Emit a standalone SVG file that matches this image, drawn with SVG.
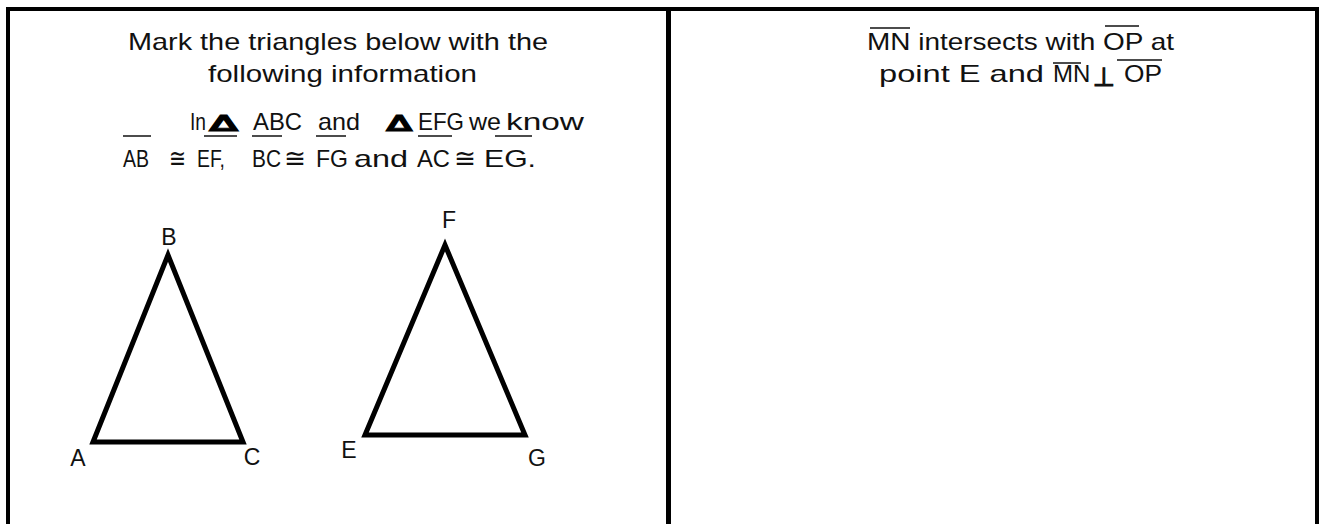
<svg xmlns="http://www.w3.org/2000/svg" width="1320" height="524" viewBox="0 0 1320 524">
<style>
.t{font-family:"Liberation Sans","DejaVu Sans",sans-serif;font-size:24px;fill:#111}
.s{font-family:"DejaVu Sans",sans-serif;font-size:26px;fill:#111}
.tri{font-family:"DejaVu Sans",sans-serif;font-weight:bold;font-size:40px;fill:#000;stroke:#000;stroke-width:1.5}
.lbl{font-family:"Liberation Sans","DejaVu Sans",sans-serif;font-size:23px;fill:#111;text-anchor:middle}
.ov{stroke:#111;stroke-width:1.5;fill:none}
.frame{stroke:#000;fill:none}
.shape{stroke:#000;stroke-width:5;fill:none;stroke-linejoin:miter}
</style>
<rect width="1320" height="524" fill="#fff"/>
<g id="frame">
<line class="frame" x1="6" y1="9" x2="1319" y2="9" stroke-width="4"/>
<line class="frame" x1="8" y1="7" x2="8" y2="524" stroke-width="4"/>
<line class="frame" x1="1317" y1="7" x2="1317" y2="524" stroke-width="4"/>
<line class="frame" x1="668.5" y1="11" x2="668.5" y2="524" stroke-width="5"/>
</g>
<g id="left-text">
<text class="t" x="128" y="50" textLength="420" lengthAdjust="spacingAndGlyphs">Mark the triangles below with the</text>
<text class="t" x="208" y="82" textLength="269" lengthAdjust="spacingAndGlyphs">following information</text>
<text class="t" x="190" y="130" textLength="16" lengthAdjust="spacingAndGlyphs">In</text>
<text class="tri" transform="translate(209,131) scale(1.05,0.56)">∆</text>
<text class="t" x="253" y="130" textLength="49" lengthAdjust="spacingAndGlyphs">ABC</text>
<text class="t" x="318" y="130" textLength="42" lengthAdjust="spacingAndGlyphs">and</text>
<text class="tri" transform="translate(386,131) scale(0.95,0.56)">∆</text>
<text class="t" x="418" y="130" textLength="46" lengthAdjust="spacingAndGlyphs">EFG</text>
<text class="t" x="469" y="130" textLength="32" lengthAdjust="spacingAndGlyphs">we</text>
<text class="t" x="506" y="130" textLength="78" lengthAdjust="spacingAndGlyphs">know</text>
<text class="t" x="123" y="167" textLength="26" lengthAdjust="spacingAndGlyphs">AB</text>
<text class="s" x="169" y="167" textLength="17" lengthAdjust="spacingAndGlyphs">≅</text>
<text class="t" x="197" y="167" textLength="28" lengthAdjust="spacingAndGlyphs">EF,</text>
<text class="t" x="252" y="167" textLength="29" lengthAdjust="spacingAndGlyphs">BC</text>
<text class="s" x="284" y="167" textLength="22" lengthAdjust="spacingAndGlyphs">≅</text>
<text class="t" x="316" y="167" textLength="32" lengthAdjust="spacingAndGlyphs">FG</text>
<text class="t" x="354" y="167" textLength="54" lengthAdjust="spacingAndGlyphs">and</text>
<text class="t" x="417" y="167" textLength="33" lengthAdjust="spacingAndGlyphs">AC</text>
<text class="s" x="454" y="167" textLength="22" lengthAdjust="spacingAndGlyphs">≅</text>
<text class="t" x="484" y="167" textLength="52" lengthAdjust="spacingAndGlyphs">EG.</text>
<line class="ov" x1="123" y1="136" x2="151" y2="136"/>
<line class="ov" x1="204" y1="136" x2="237" y2="136"/>
<line class="ov" x1="252" y1="136" x2="282" y2="136"/>
<line class="ov" x1="316" y1="136" x2="346" y2="136"/>
<line class="ov" x1="418" y1="136" x2="452" y2="136"/>
<line class="ov" x1="495" y1="136" x2="532" y2="136"/>
</g>
<g id="triangle-ABC">
<polygon class="shape" points="93,442 168,255 243,442"/>
<text class="lbl" x="169" y="245">B</text>
<text class="lbl" x="78" y="466">A</text>
<text class="lbl" x="252" y="465">C</text>
</g>
<g id="triangle-EFG">
<polygon class="shape" points="365,435 445,245 525,435"/>
<text class="lbl" x="449" y="228">F</text>
<text class="lbl" x="349" y="458">E</text>
<text class="lbl" x="537" y="466">G</text>
</g>
<g id="right-text">
<text class="t" x="867" y="50" textLength="307" lengthAdjust="spacingAndGlyphs">MN intersects with OP at</text>
<line class="ov" x1="870" y1="28" x2="910" y2="28"/>
<line class="ov" x1="1105" y1="26" x2="1139" y2="26"/>
<text class="t" x="879" y="82" textLength="165" lengthAdjust="spacingAndGlyphs">point E and</text>
<text class="t" x="1053" y="82" font-size="19">MN</text>
<text class="s" x="1093" y="86" font-size="28" stroke="#111" stroke-width="1.2" textLength="22" lengthAdjust="spacingAndGlyphs">⊥</text>
<text class="t" x="1124" y="82" textLength="38" lengthAdjust="spacingAndGlyphs">OP</text>
<line class="ov" x1="1053" y1="63" x2="1081" y2="63"/>
<line class="ov" x1="1117" y1="60" x2="1162" y2="60"/>
</g>
</svg>
